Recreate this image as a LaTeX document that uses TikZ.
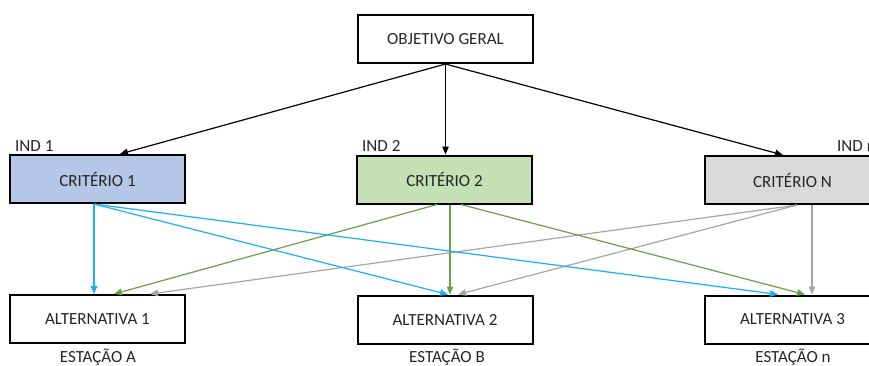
\documentclass[tikz,border=0pt]{standalone}
\usepackage{fontspec}
\setmainfont{Carlito}
\usetikzlibrary{arrows.meta}
\definecolor{cyanline}{HTML}{1AB2F0}
\definecolor{greenline}{HTML}{6E9E48}
\definecolor{grayline}{HTML}{A5A5A5}
\definecolor{fillone}{HTML}{B4C7E7}
\definecolor{filltwo}{HTML}{C5E0B4}
\definecolor{fillthree}{HTML}{D9D9D9}
\definecolor{txt}{HTML}{262626}
\begin{document}
\begin{tikzpicture}[x=1pt,y=-1pt,
  boxnode/.style={draw=black,line width=2pt,minimum width=175pt,minimum height=48pt,
    inner sep=0pt,text=txt,font=\fontsize{17}{20}\selectfont},
  lbl/.style={text=txt,font=\fontsize{17}{20}\selectfont,inner sep=0pt},
  conn/.style={line width=1.2pt,-{Triangle[length=8pt,width=6.5pt]}},
]
\useasboundingbox (0,0) rectangle (869,365);
\clip (0,0) rectangle (869,365);
\fill[white] (0,0) rectangle (869,365);

\node[boxnode,fill=white] (obj) at (445.5,39) {OBJETIVO GERAL};
\node[boxnode,fill=fillone] (c1) at (97.5,179) {CRITÉRIO 1};
\node[boxnode,fill=filltwo] (c2) at (444.5,179.5) {CRITÉRIO 2};
\node[boxnode,fill=fillthree] (cN) at (792.5,180) {CRITÉRIO N};
\node[boxnode,fill=white] (a1) at (97.5,319) {ALTERNATIVA 1};
\node[boxnode,fill=white] (a2) at (445,319.5) {ALTERNATIVA 2};
\node[boxnode,fill=white] (a3) at (792.5,319.5) {ALTERNATIVA 3};

\node[lbl,anchor=west] (i1) at (15,146) {IND 1};
\node[lbl,anchor=west] (i2) at (362,146) {IND 2};
\node[lbl,anchor=west] (iN) at (837,146) {IND n};

\node[lbl] (e1) at (98,357) {ESTAÇÃO A};
\node[lbl] (e2) at (447,357) {ESTAÇÃO B};
\node[lbl] (e3) at (793,357) {ESTAÇÃO n};

% anchor coordinates
\coordinate (c1t) at ([xshift=22.5pt]c1.north);
\coordinate (cNt) at ([xshift=-9.5pt]cN.north);
\coordinate (c1s) at ([xshift=-3.5pt]c1.south);
\coordinate (c2l) at ([xshift=-7.5pt]c2.south);
\coordinate (c2m) at ([xshift=5.5pt]c2.south);
\coordinate (c2r) at ([xshift=16.5pt]c2.south);
\coordinate (cNl) at ([xshift=4.5pt]cN.south);
\coordinate (cNm) at ([xshift=19.5pt]cN.south);
\coordinate (a1c) at ([xshift=-3.5pt]a1.north);
\coordinate (a1g) at ([xshift=16.5pt]a1.north);
\coordinate (a1r) at ([xshift=52.5pt]a1.north);
\coordinate (a2c) at ([xshift=3pt]a2.north);
\coordinate (a2g) at ([xshift=5pt]a2.north);
\coordinate (a2r) at ([xshift=13pt]a2.north);
\coordinate (a3c) at ([xshift=-14.5pt]a3.north);
\coordinate (a3g) at ([xshift=12.5pt]a3.north);
\coordinate (a3r) at ([xshift=19.5pt]a3.north);

% top arrows
\draw[conn,black] (obj.south) -- (c1t);
\draw[conn,black] (obj.south) -- (obj.south |- c2.north);
\draw[conn,black] (obj.south) -- (cNt);

% gray
\draw[conn,grayline] (cNl) -- (a1r);
\draw[conn,grayline] (cNl) -- (a2r);
\draw[conn,grayline] (cNm) -- (a3r);
% green
\draw[conn,greenline] (c2l) -- (a1g);
\draw[conn,greenline] (c2m) -- (a2g);
\draw[conn,greenline] (c2r) -- (a3g);
% cyan
\draw[conn,cyanline] (c1s) -- (a1c);
\draw[conn,cyanline] (c1s) -- (a2c);
\draw[conn,cyanline] (c1s) -- (a3c);
\end{tikzpicture}
\end{document}
